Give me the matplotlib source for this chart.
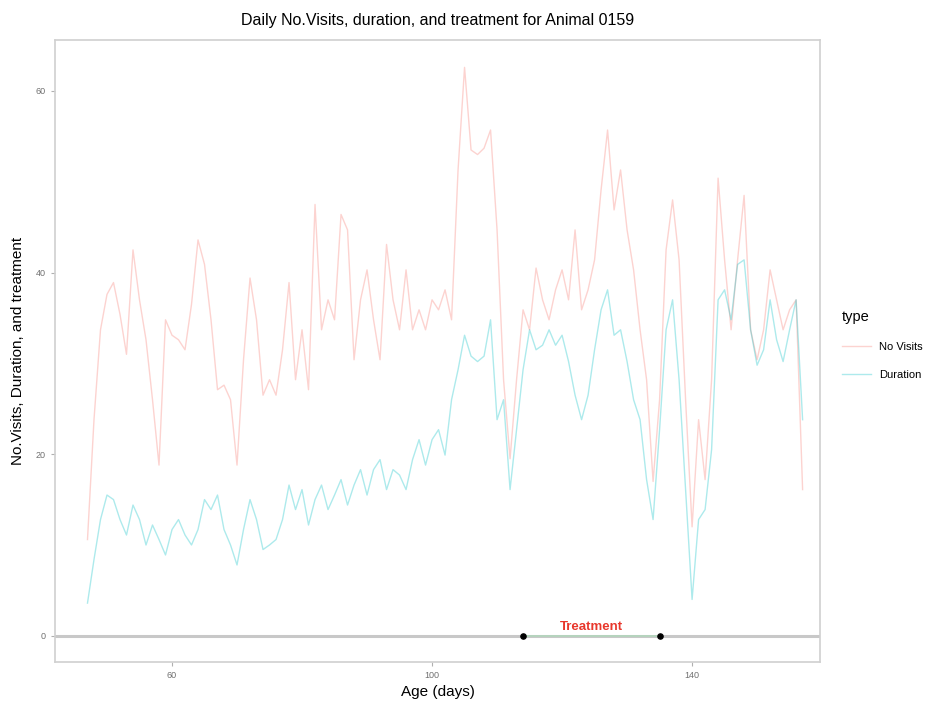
import matplotlib.pyplot as plt

plt.rcParams['font.family'] = ['Liberation Sans', 'DejaVu Sans']

# daily records, one value per day of age
first_day = 47
visits = [10.6, 23.8, 33.7, 37.6, 38.9, 35.4, 31.0, 42.5, 37.0, 32.6,
          26.0, 18.8, 34.8, 33.1, 32.6, 31.5, 36.5, 43.6, 40.9, 34.8,
          27.1, 27.6, 26.0, 18.8, 30.4, 39.4, 34.8, 26.5, 28.2, 26.5,
          31.5, 38.9, 28.2, 33.7, 27.1, 47.5, 33.7, 37.0, 34.8, 46.4,
          44.7, 30.4, 37.0, 40.3, 34.8, 30.4, 43.1, 37.0, 33.7, 40.3,
          33.7, 35.9, 33.7, 37.0, 35.9, 38.1, 34.8, 51.3, 62.6, 53.5,
          53.0, 53.7, 55.7, 44.7, 28.2, 19.5, 28.2, 35.9, 33.7, 40.5,
          37.0, 34.8, 38.1, 40.3, 37.0, 44.7, 35.9, 38.1, 41.4, 49.1,
          55.7, 46.9, 51.3, 44.7, 40.3, 33.7, 28.2, 17.0, 26.0, 42.5,
          48.0, 41.4, 26.0, 12.0, 23.8, 17.2, 28.2, 50.4, 41.4, 33.7,
          41.4, 48.5, 33.7, 30.4, 33.7, 40.3, 37.0, 33.7, 35.9, 37.0,
          16.1]
duration = [3.6, 8.4, 12.8, 15.5, 15.0, 12.8, 11.1, 14.4, 12.8, 10.0,
            12.2, 10.6, 8.9, 11.7, 12.8, 11.1, 10.0, 11.7, 15.0, 13.9,
            15.5, 11.7, 10.0, 7.8, 11.7, 15.0, 12.8, 9.5, 10.0, 10.6,
            12.8, 16.6, 13.9, 16.1, 12.2, 15.0, 16.6, 13.9, 15.5, 17.2,
            14.4, 16.6, 18.3, 15.5, 18.3, 19.4, 16.1, 18.3, 17.7, 16.1,
            19.4, 21.6, 18.8, 21.6, 22.7, 19.9, 26.0, 29.3, 33.1, 30.8,
            30.2, 30.8, 34.8, 23.8, 26.0, 16.1, 22.7, 29.3, 33.7, 31.5,
            32.0, 33.7, 32.0, 33.1, 30.2, 26.5, 23.8, 26.5, 31.5, 35.9,
            38.1, 33.1, 33.7, 30.2, 26.0, 23.8, 17.2, 12.8, 22.7, 33.7,
            37.0, 28.2, 16.1, 4.0, 12.8, 13.9, 20.5, 37.0, 38.1, 34.8,
            40.9, 41.4, 33.7, 29.8, 31.5, 37.0, 32.6, 30.2, 33.7, 37.0,
            23.8]
age = list(range(first_day, first_day + len(visits)))

treatment_start = 114
treatment_end = 135

fig = plt.figure(figsize=(9.32, 7.04), dpi=100)
ax = fig.add_axes([0.059, 0.06, 0.821, 0.883])

ax.plot(age, visits, color='#F8766D', alpha=0.32, lw=1.0, label='No Visits')
ax.plot(age, duration, color='#00BFC4', alpha=0.32, lw=1.0, label='Duration')

# baseline and treatment window
ax.axhline(0, color='#c8c8c8', lw=2.2, zorder=1)
ax.plot([treatment_start, treatment_end], [0, 0], color='#9be3b0', lw=1.2, alpha=0.5, zorder=2)
ax.scatter([treatment_start, treatment_end], [0, 0], color='black', s=14, zorder=3)
ax.text((treatment_start + treatment_end) / 2, 0.3, 'Treatment', color='#e8372c',
        fontsize=9.5, fontweight='bold', ha='center', va='bottom')

ax.set_xlim(42, 159.7)
ax.set_ylim(-2.86, 65.6)
ax.set_xticks([60, 100, 140])
ax.set_yticks([0, 20, 40, 60])
ax.tick_params(labelsize=6.5, colors='#b0b0b0', labelcolor='#707070', length=3)
for side in ax.spines.values():
    side.set_color('#d0d0d0')
    side.set_linewidth(1.2)

ax.set_title('Daily No.Visits, duration, and treatment for Animal 0159', fontsize=11.5, pad=11)
ax.set_xlabel('Age (days)', fontsize=11, labelpad=4)
ax.set_ylabel('No.Visits, Duration, and treatment', fontsize=11, labelpad=8)

leg = ax.legend(title='type', loc='center left', bbox_to_anchor=(1.015, 0.51), frameon=False,
                fontsize=8, title_fontsize=10.5, handlelength=2.6, labelspacing=1.6)
leg._legend_box.align = 'left'

fig.savefig('out.png', dpi=100)
